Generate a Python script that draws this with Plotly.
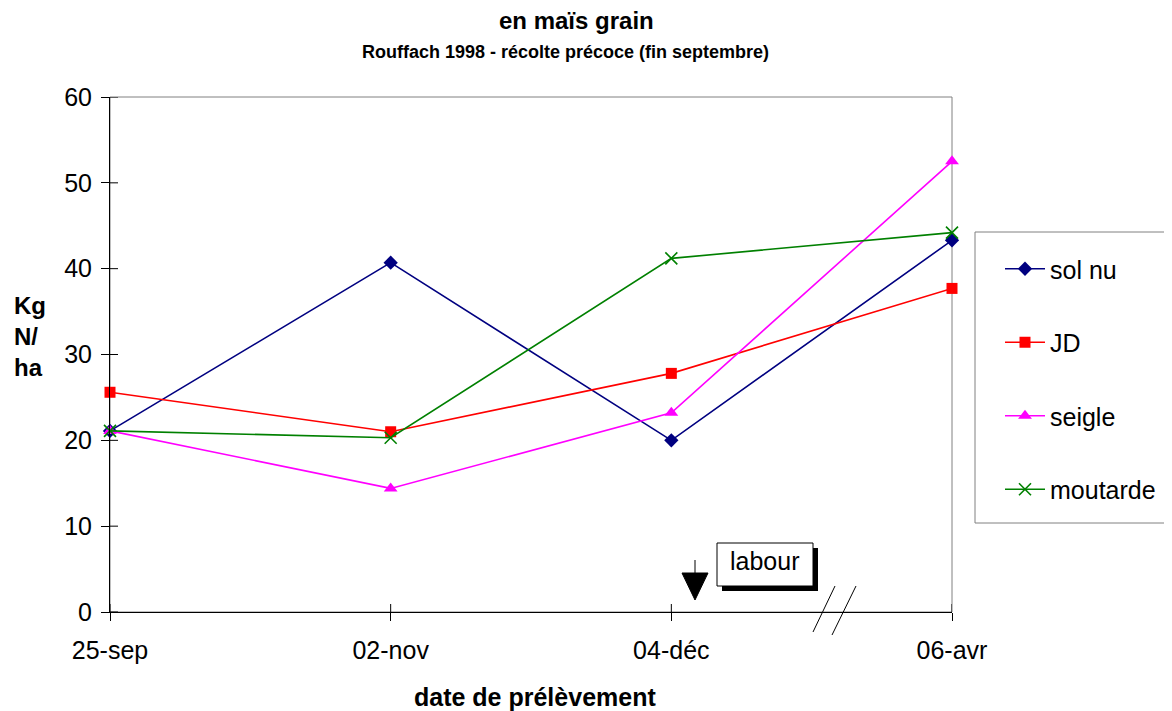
import plotly.graph_objects as go

dates = ["25-sep", "02-nov", "04-déc", "06-avr"]
sol_nu = [21.1, 40.7, 20.0, 43.3]
jd = [25.6, 21.0, 27.8, 37.7]
seigle = [21.1, 14.4, 23.2, 52.5]
moutarde = [21.1, 20.3, 41.2, 44.2]
y_ticks = [0, 10, 20, 30, 40, 50, 60]

FONT = "Arial, Liberation Sans, sans-serif"
OFF = 8  # page body margin of the html output
W, H = 1172 - OFF, 711 - OFF
L, R, T, B = 110 - OFF, 220, 97 - OFF, 99
pw, ph = W - L - R, H - T - B


def px(x):
    # screen pixel -> paper
    return (x - OFF - L) / pw


def py(y):
    return (H - B - (y - OFF)) / ph


series = [
    ("sol nu", sol_nu, "#000080", dict(symbol="diamond", size=11)),
    ("JD", jd, "#ff0000", dict(symbol="square", size=11)),
    ("seigle", seigle, "#ff00ff", dict(symbol="triangle-up", size=12)),
    ("moutarde", moutarde, "#008000", dict(symbol="x-thin", size=12, line=dict(width=1.6, color="#008000"))),
]

fig = go.Figure()
for i, (name, vals, col, mk) in enumerate(series):
    fig.add_trace(go.Scatter(
        x=list(range(len(dates))), y=vals, name=name, mode="lines+markers",
        line=dict(color=col, width=1.6), marker=dict(color=col, **mk),
        cliponaxis=False, legendgroup=f"g{i}",
    ))

shapes = [
    # gray plot frame
    dict(type="rect", xref="paper", yref="paper", x0=0, x1=1, y0=0, y1=1,
         line=dict(color="#808080", width=1), layer="below"),
    # legend frame (open on the right, runs off the page)
    dict(type="path", xref="paper", yref="paper",
         path=f"M {px(1180)},{py(232)} L {px(975)},{py(232)} L {px(975)},{py(523)} L {px(1180)},{py(523)}",
         line=dict(color="#808080", width=1)),
]
# inner halves of crossing ticks
for v in y_ticks:
    shapes.append(dict(type="line", xref="paper", yref="y", x0=0, x1=8 / pw, y0=v, y1=v,
                       line=dict(color="black", width=1)))
for i in range(len(dates)):
    shapes.append(dict(type="line", xref="x", yref="paper", x0=i, x1=i, y0=0, y1=8 / ph,
                       line=dict(color="black", width=1)))

# labour arrow
shapes.append(dict(type="line", xref="paper", yref="paper", x0=px(695), x1=px(695),
                   y0=py(560), y1=py(575), line=dict(color="black", width=1)))
shapes.append(dict(type="path", xref="paper", yref="paper",
                   path=f"M {px(682)},{py(573)} L {px(708)},{py(573)} L {px(695)},{py(600)} Z",
                   fillcolor="black", line=dict(color="black", width=1)))
# labour box shadow and box
shapes.append(dict(type="rect", xref="paper", yref="paper", x0=px(722), x1=px(818),
                   y0=py(591), y1=py(548), fillcolor="black", line=dict(width=0)))
shapes.append(dict(type="rect", xref="paper", yref="paper", x0=px(717), x1=px(813),
                   y0=py(586), y1=py(543), fillcolor="white", line=dict(color="black", width=1)))
# axis break marks
shapes.append(dict(type="line", xref="paper", yref="paper", x0=px(813), x1=px(835),
                   y0=py(632), y1=py(586), line=dict(color="black", width=1)))
shapes.append(dict(type="line", xref="paper", yref="paper", x0=px(832), x1=px(856),
                   y0=py(635), y1=py(586), line=dict(color="black", width=1)))

annotations = [
    dict(text="<b>en maïs grain</b>", xref="paper", yref="paper", x=px(576), y=py(21),
         showarrow=False, font=dict(size=24, color="black"), xanchor="center", yanchor="middle"),
    dict(text="<b>Rouffach 1998 - récolte précoce (fin septembre)</b>", xref="paper", yref="paper",
         x=px(565), y=py(52), showarrow=False, font=dict(size=18, color="black"),
         xanchor="center", yanchor="middle"),
    dict(text="<b>Kg<br>N/<br>ha</b>", xref="paper", yref="paper", x=px(12), y=py(336),
         showarrow=False, font=dict(size=24, color="black"), align="left",
         xanchor="left", yanchor="middle"),
    dict(text="<b>date de prélèvement</b>", xref="paper", yref="paper", x=px(535), y=py(697),
         showarrow=False, font=dict(size=25, color="black"), xanchor="center", yanchor="middle"),
    dict(text="labour", xref="paper", yref="paper", x=px(765), y=py(561),
         showarrow=False, font=dict(size=25, color="black"), xanchor="center", yanchor="middle"),
]

fig.update_layout(
    width=W, height=H,
    margin=dict(l=L, r=R, t=T, b=B, autoexpand=False),
    paper_bgcolor="white", plot_bgcolor="white",
    font=dict(family=FONT, size=25, color="black"),
    showlegend=True,
    legend=dict(x=px(1000), y=py(246), xanchor="left", yanchor="top",
                borderwidth=0, bgcolor="rgba(0,0,0,0)",
                font=dict(size=25), tracegroupgap=38, itemwidth=40),
    xaxis=dict(range=[0, 3], tickvals=list(range(len(dates))), ticktext=dates,
               showgrid=False, zeroline=False, showline=True, linecolor="black", linewidth=1,
               ticks="outside", ticklen=8, tickcolor="black", ticklabelstandoff=8,
               tickfont=dict(size=25), fixedrange=True),
    yaxis=dict(range=[0, 60], tickvals=y_ticks, showgrid=False, zeroline=False,
               showline=True, linecolor="black", linewidth=1,
               ticks="outside", ticklen=8, tickcolor="black", ticklabelstandoff=4,
               tickfont=dict(size=25), fixedrange=True),
    shapes=shapes, annotations=annotations,
)

fig.write_html("out.html")
